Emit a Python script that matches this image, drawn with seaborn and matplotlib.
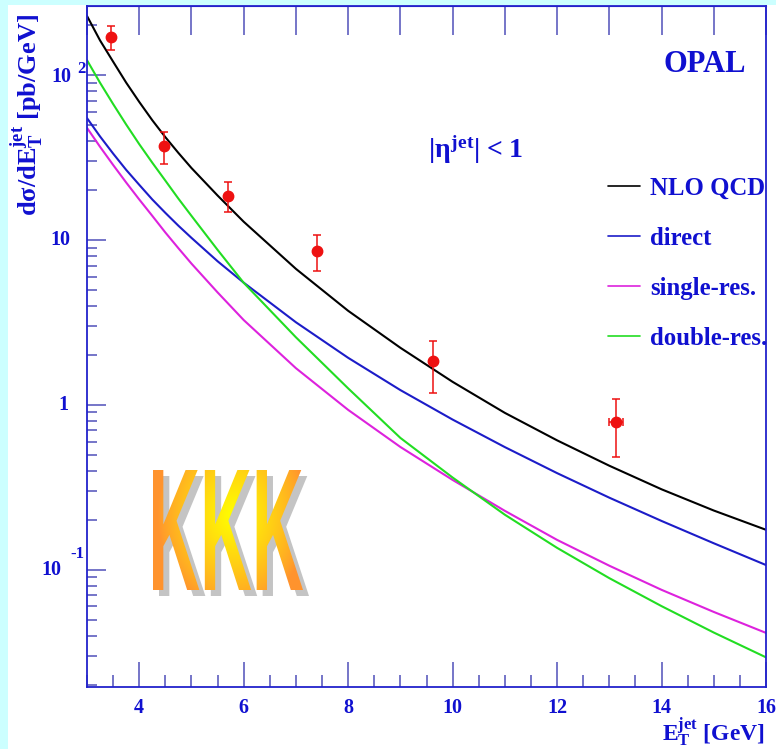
import numpy as np
import pandas as pd
import matplotlib
matplotlib.use("Agg")
import matplotlib.pyplot as plt
import seaborn as sns
from matplotlib.textpath import TextPath
from matplotlib.patches import PathPatch, Rectangle
from matplotlib.font_manager import FontProperties
from matplotlib.ticker import MultipleLocator, LogLocator, NullFormatter, FixedLocator
from matplotlib.lines import Line2D
from matplotlib.transforms import Affine2D

# ---- data -------------------------------------------------------------
et_grid = [3, 3.25, 3.5, 3.75, 4, 4.25, 4.5, 4.75, 5, 5.5, 6, 7, 8, 9, 10,
           11, 12, 13, 14, 15, 16]
nlo_qcd = [228, 162, 120.5, 89.9, 68.7, 53.2, 42.0, 33.7, 27.3, 18.6, 12.9,
           6.68, 3.72, 2.22, 1.38, 0.895, 0.610, 0.428, 0.308, 0.229, 0.175]
direct = [54.8, 42.4, 33.4, 26.6, 21.6, 17.6, 14.6, 12.2, 10.3, 7.43, 5.51,
          3.17, 1.93, 1.23, 0.815, 0.555, 0.386, 0.274, 0.198, 0.145, 0.107]
single_res = [47.8, 36.7, 28.5, 22.3, 17.6, 14.0, 11.1, 8.91, 7.19, 4.81, 3.27,
              1.67, 0.933, 0.556, 0.351, 0.228, 0.152, 0.106, 0.0757, 0.0556, 0.0415]
double_res = [123, 89.7, 66.7, 50.1, 38.1, 29.4, 22.9, 17.8, 14.0, 8.71, 5.50,
              2.57, 1.26, 0.631, 0.363, 0.216, 0.136, 0.0891, 0.0603, 0.0417, 0.0295]

curve_names = ["NLO QCD", "direct", "single-res.", "double-res."]
curve_colors = ["#000000", "#1c1cc8", "#dd22dd", "#22dd22"]

data_et = [3.45, 4.47, 5.70, 7.41, 9.63, 13.13]
data_xsec = [170, 37.1, 18.5, 8.58, 1.85, 0.789]
data_err_lo = [28, 8.2, 3.7, 2.09, 0.67, 0.305]
data_err_hi = [28, 8.1, 4.0, 2.12, 0.59, 0.30]
data_et_err = [0, 0, 0, 0, 0, 0.14]

ytick_vals = [0.1, 1, 10, 100]

# ---- style ------------------------------------------------------------
sns.set_style("ticks")
plt.rcParams["font.family"] = ["Liberation Serif", "DejaVu Serif"]
plt.rcParams["font.weight"] = "bold"
plt.rcParams["mathtext.fontset"] = "custom"
plt.rcParams["mathtext.rm"] = "Liberation Serif:bold"
plt.rcParams["mathtext.it"] = "Liberation Serif:bold"
plt.rcParams["mathtext.bf"] = "Liberation Serif:bold"

TXT = "#1010d0"
AXC = "#2222cc"
TICKC = "#6a6ac4"

W, H = 776, 749
fig = plt.figure(figsize=(W / 100, H / 100), dpi=100, facecolor="white")
fig.add_artist(Rectangle((0, 0), 8 / W, 1, transform=fig.transFigure,
                         color="#ccffff", zorder=0, lw=0))
fig.add_artist(Rectangle((0, 1 - 5 / H), 1, 5 / H, transform=fig.transFigure,
                         color="#ccffff", zorder=0, lw=0))

ax_l, ax_r, ax_t, ax_b = 87, 766, 6, 687
ax = fig.add_axes([ax_l / W, (H - ax_b) / H, (ax_r - ax_l) / W, (ax_b - ax_t) / H])
ax.set_facecolor("white")

# ---- theory curves ----------------------------------------------------
series = [nlo_qcd, direct, single_res, double_res]
df = pd.DataFrame({
    "et": et_grid * len(series),
    "xsec": [v for s in series for v in s],
    "curve": [n for n in curve_names for _ in et_grid],
})
sns.lineplot(data=df, x="et", y="xsec", hue="curve", hue_order=curve_names,
             palette=dict(zip(curve_names, curve_colors)), lw=1.5,
             legend=False, errorbar=None, ax=ax)

# ---- measured points --------------------------------------------------
ax.errorbar(data_et, data_xsec, yerr=[data_err_lo, data_err_hi], xerr=data_et_err,
            fmt="o", color="#ee1111", ms=7.5, elinewidth=1.1, capsize=2.7,
            capthick=1.1, zorder=5)

ax.set_yscale("log")
ax.set_xlim(3, 16)
ax.set_ylim(0.0195, 262)
ax.set_xlabel("")
ax.set_ylabel("")

for sp in ax.spines.values():
    sp.set_color(AXC)
    sp.set_linewidth(1.3)
    sp.set_visible(True)

ax.xaxis.set_major_locator(MultipleLocator(2))
ax.xaxis.set_minor_locator(MultipleLocator(0.5))
ax.yaxis.set_major_locator(FixedLocator(ytick_vals))
ax.yaxis.set_minor_locator(LogLocator(base=10, subs=np.arange(2, 10)))
ax.yaxis.set_major_formatter(NullFormatter())
ax.yaxis.set_minor_formatter(NullFormatter())
ax.tick_params(axis="x", which="major", direction="in", length=18, width=1.3,
               color=TICKC, labelcolor=TXT, labelsize=14.5, pad=8)
ax.tick_params(axis="x", which="minor", direction="in", length=9, width=1.3, color=TICKC)
ax.tick_params(axis="y", which="major", direction="in", length=14, width=1.3, color=TICKC)
ax.tick_params(axis="y", which="minor", direction="in", length=7, width=1.3, color=TICKC)
for lab in ax.get_xticklabels():
    lab.set_fontweight("bold")

top = ax.secondary_xaxis("top")
top.xaxis.set_major_locator(MultipleLocator(1))
top.tick_params(direction="in", length=21, width=1.3, color=TICKC, labeltop=False)
top.spines["top"].set_color(AXC)

# y tick labels in the 10 / 10^n style
ylab_kw = dict(xycoords=("axes fraction", "data"), textcoords="offset pixels",
               color=TXT, fontweight="bold", va="center")
for v in ytick_vals:
    if v == 100:
        ax.annotate("10", (0, v), xytext=(-16, -2), ha="right", fontsize=14.5, **ylab_kw)
        ax.annotate("2", (0, v), xytext=(-10, 6), ha="left", fontsize=12, **ylab_kw)
    elif v == 10:
        ax.annotate("10", (0, v), xytext=(-17, 0), ha="right", fontsize=14.5, **ylab_kw)
    elif v == 1:
        ax.annotate("1", (0, v), xytext=(-19, 0), ha="right", fontsize=14.5, **ylab_kw)
    else:
        ax.annotate("10", (0, v), xytext=(-26, 0), ha="right", fontsize=14.5, **ylab_kw)
        ax.annotate("-1", (0, v), xytext=(-17, 16), ha="left", fontsize=12, **ylab_kw)

# ---- annotations ------------------------------------------------------
fig.text(28 / W, 1 - 14 / H, r"d$\sigma$/d$\mathrm{E}_{\mathrm{T}}^{\mathrm{jet}}$ [pb/GeV]",
         rotation=90, ha="center", va="top", color=TXT, fontsize=19, fontweight="bold")
fig.text(765 / W, (H - 741) / H, r"$\mathrm{E}_{\mathrm{T}}^{\mathrm{jet}}$ [GeV]",
         ha="right", va="baseline", color=TXT, fontsize=17, fontweight="bold")
ax.text((705 - ax_l) / (ax_r - ax_l), (ax_b - 64) / (ax_b - ax_t), "OPAL",
        transform=ax.transAxes, ha="center", va="center", color=TXT,
        fontsize=22, fontweight="bold")
ax.text((476 - ax_l) / (ax_r - ax_l), (ax_b - 150) / (ax_b - ax_t),
        r"|$\eta^{\mathrm{jet}}$| < 1", transform=ax.transAxes, ha="center",
        va="center", color=TXT, fontsize=20, fontweight="bold")

handles = [Line2D([], [], color=c, lw=1.2) for c in curve_colors]
ax.legend(handles, curve_names, loc="upper left",
          bbox_to_anchor=((608 - ax_l) / (ax_r - ax_l), (ax_b - 177) / (ax_b - ax_t)),
          frameon=False, borderpad=0, borderaxespad=0, handlelength=1.3,
          handletextpad=0.4, labelspacing=1.09, labelcolor=TXT,
          prop=FontProperties(family="Liberation Serif", weight="bold", size=17.8))

# ---- KKK logo ---------------------------------------------------------
lx0, lx1, ly0, ly1 = 153, 303, 470, 590
logo = fig.add_axes([lx0 / W, (H - ly1) / H, (lx1 - lx0) / W, (ly1 - ly0) / H])
logo.set_axis_off()
tp = TextPath((0, 0), "KKK", size=100,
              prop=FontProperties(family=["Liberation Sans", "DejaVu Sans"]))
bb = tp.get_extents()
logo.set_xlim(bb.x0, bb.x1)
logo.set_ylim(bb.y0, bb.y1)
sx = bb.width / (lx1 - lx0)
sy = bb.height / (ly1 - ly0)
shadow = PathPatch(tp.transformed(Affine2D().translate(6 * sx, -6 * sy)),
                   facecolor="#c4c4c4", edgecolor="none", clip_on=False)
logo.add_patch(shadow)
face = PathPatch(tp, facecolor="none", edgecolor="none")
logo.add_patch(face)
nx, ny = 300, 240
gx, gy = np.meshgrid(np.linspace(0, lx1 - lx0, nx), np.linspace(0, ly1 - ly0, ny))
r = np.hypot(gx - 80, (gy - 75) * 0.8) / 75.0
t = np.clip(1 - r, 0, 1) ** 0.8
orange = np.array([1.0, 0.58, 0.18])
yellow = np.array([1.0, 1.0, 0.0])
img = orange[None, None, :] * (1 - t[..., None]) + yellow[None, None, :] * t[..., None]
im = logo.imshow(img, extent=(bb.x0, bb.x1, bb.y1, bb.y0), aspect="auto",
                 interpolation="bilinear", zorder=3)
im.set_clip_path(face)
logo.set_ylim(bb.y0, bb.y1)

fig.savefig("out.png", dpi=100, facecolor="white")
